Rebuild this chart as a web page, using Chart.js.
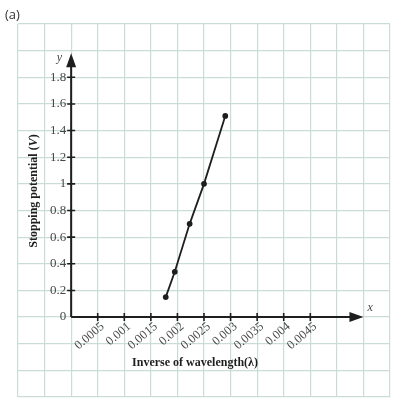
<!DOCTYPE html>
<html>
<head>
<meta charset="utf-8">
<script src="https://cdn.jsdelivr.net/npm/chart.js@4/dist/chart.umd.min.js"></script>
<style>
html, body { margin: 0; padding: 0; background: #fff; }
#wrap { width: 401px; height: 407px; position: relative; }
</style>
</head>
<body>
<div id="wrap"><canvas id="photo-chart"></canvas></div>
<script>
const inverseWavelength = [0.00178, 0.00195, 0.00223, 0.0025, 0.0029];
const stoppingPotential = [0.15, 0.34, 0.7, 1.0, 1.51];
const xTickLabels = ['0.0005', '0.001', '0.0015', '0.002', '0.0025', '0.003', '0.0035', '0.004', '0.0045'];
const yTickLabels = ['0', '0.2', '0.4', '0.6', '0.8', '1', '1.2', '1.4', '1.6', '1.8'];

const gridColor = '#cadcd8';
const inkColor = '#1e1e1e';
const labelColor = '#474747';

// axes with arrows, ticks and labels are drawn inside the grid, like the textbook figure
const axesPlugin = {
    id: 'axes',
    afterDraw(chart) {
        const {ctx, scales: {x, y}} = chart;
        const x0 = x.getPixelForValue(0);
        const y0 = y.getPixelForValue(0);
        const xTip = x.getPixelForValue(0.0055);
        const yTip = y.getPixelForValue(1.98);
        ctx.save();
        ctx.strokeStyle = inkColor;
        ctx.fillStyle = inkColor;
        ctx.lineWidth = 2;
        ctx.beginPath();
        ctx.moveTo(x0, y0);
        ctx.lineTo(xTip - 10, y0);
        ctx.moveTo(x0, y0);
        ctx.lineTo(x0, yTip + 10);
        ctx.stroke();
        // arrow heads
        ctx.beginPath();
        ctx.moveTo(xTip, y0);
        ctx.lineTo(xTip - 14, y0 - 5);
        ctx.lineTo(xTip - 14, y0 + 5);
        ctx.closePath();
        ctx.fill();
        ctx.beginPath();
        ctx.moveTo(x0, yTip);
        ctx.lineTo(x0 - 5, yTip + 14);
        ctx.lineTo(x0 + 5, yTip + 14);
        ctx.closePath();
        ctx.fill();

        // tick marks
        ctx.lineWidth = 1.6;
        ctx.beginPath();
        xTickLabels.forEach(l => {
            const px = x.getPixelForValue(parseFloat(l));
            ctx.moveTo(px, y0 - 4);
            ctx.lineTo(px, y0 + 4);
        });
        yTickLabels.slice(1).forEach(l => {
            const py = y.getPixelForValue(parseFloat(l));
            ctx.moveTo(x0 - 4, py);
            ctx.lineTo(x0 + 4, py);
        });
        ctx.stroke();

        // tick labels
        ctx.fillStyle = labelColor;
        ctx.font = '13px "Liberation Serif", serif';
        ctx.textAlign = 'right';
        ctx.textBaseline = 'middle';
        yTickLabels.forEach(l => {
            ctx.fillText(l, x0 - 5, y.getPixelForValue(parseFloat(l)));
        });
        ctx.font = '12.5px "Liberation Serif", serif';
        xTickLabels.forEach(l => {
            const px = x.getPixelForValue(parseFloat(l));
            ctx.save();
            ctx.translate(px + 5, y0 + 8);
            ctx.rotate(-40 * Math.PI / 180);
            ctx.textBaseline = 'middle';
            ctx.fillText(l, 0, 0);
            ctx.restore();
        });

        // axis letters
        ctx.font = 'italic 12px "Liberation Serif", serif';
        ctx.textAlign = 'left';
        ctx.fillText('x', xTip + 4, y0 - 9);
        ctx.textAlign = 'right';
        ctx.fillText('y', x0 - 9, yTip + 5);

        // axis titles
        ctx.fillStyle = inkColor;
        ctx.font = 'bold 12px "Liberation Serif", serif';
        ctx.textAlign = 'center';
        ctx.textBaseline = 'alphabetic';
        ctx.fillText('Inverse of wavelength(λ)', 195, 366);

        ctx.save();
        ctx.translate(37, 191);
        ctx.rotate(-Math.PI / 2);
        const parts = [['bold 12px "Liberation Serif", serif', 'Stopping potential ('],
                       ['bold italic 12px "Liberation Serif", serif', 'V'],
                       ['bold 12px "Liberation Serif", serif', ')']];
        let total = 0;
        parts.forEach(p => { ctx.font = p[0]; total += ctx.measureText(p[1]).width; });
        let cx = -total / 2;
        ctx.textAlign = 'left';
        parts.forEach(p => {
            ctx.font = p[0];
            ctx.fillText(p[1], cx, 0);
            cx += ctx.measureText(p[1]).width;
        });
        ctx.restore();

        // panel label
        ctx.fillStyle = '#333';
        ctx.font = '13px "Open Sans", sans-serif';
        ctx.textAlign = 'left';
        ctx.textBaseline = 'middle';
        ctx.fillText('(a)', 5, 15);
        ctx.restore();
    }
};

new Chart('photo-chart', {
    type: 'scatter',
    data: {
        datasets: [{
            data: inverseWavelength.map((v, i) => ({x: v, y: stoppingPotential[i]})),
            showLine: true,
            borderColor: inkColor,
            borderWidth: 1.8,
            backgroundColor: inkColor,
            pointRadius: 2,
            pointHoverRadius: 2
        }]
    },
    options: {
        responsive: true,
        maintainAspectRatio: false,
        animation: false,
        layout: {padding: {left: 18, top: 24, right: 11, bottom: 10}},
        plugins: {legend: {display: false}, tooltip: {enabled: false}},
        scales: {
            x: {
                type: 'linear',
                min: -0.001,
                max: 0.006,
                afterFit: s => { s.height = 0; },
                ticks: {display: false, stepSize: 0.0005},
                grid: {color: gridColor, lineWidth: 1.2, drawTicks: false},
                border: {display: false}
            },
            y: {
                type: 'linear',
                min: -0.6,
                max: 2.2,
                afterFit: s => { s.width = 0; },
                ticks: {display: false, stepSize: 0.2},
                grid: {color: gridColor, lineWidth: 1.2, drawTicks: false},
                border: {display: false}
            }
        }
    },
    plugins: [axesPlugin]
});
</script>
</body>
</html>
